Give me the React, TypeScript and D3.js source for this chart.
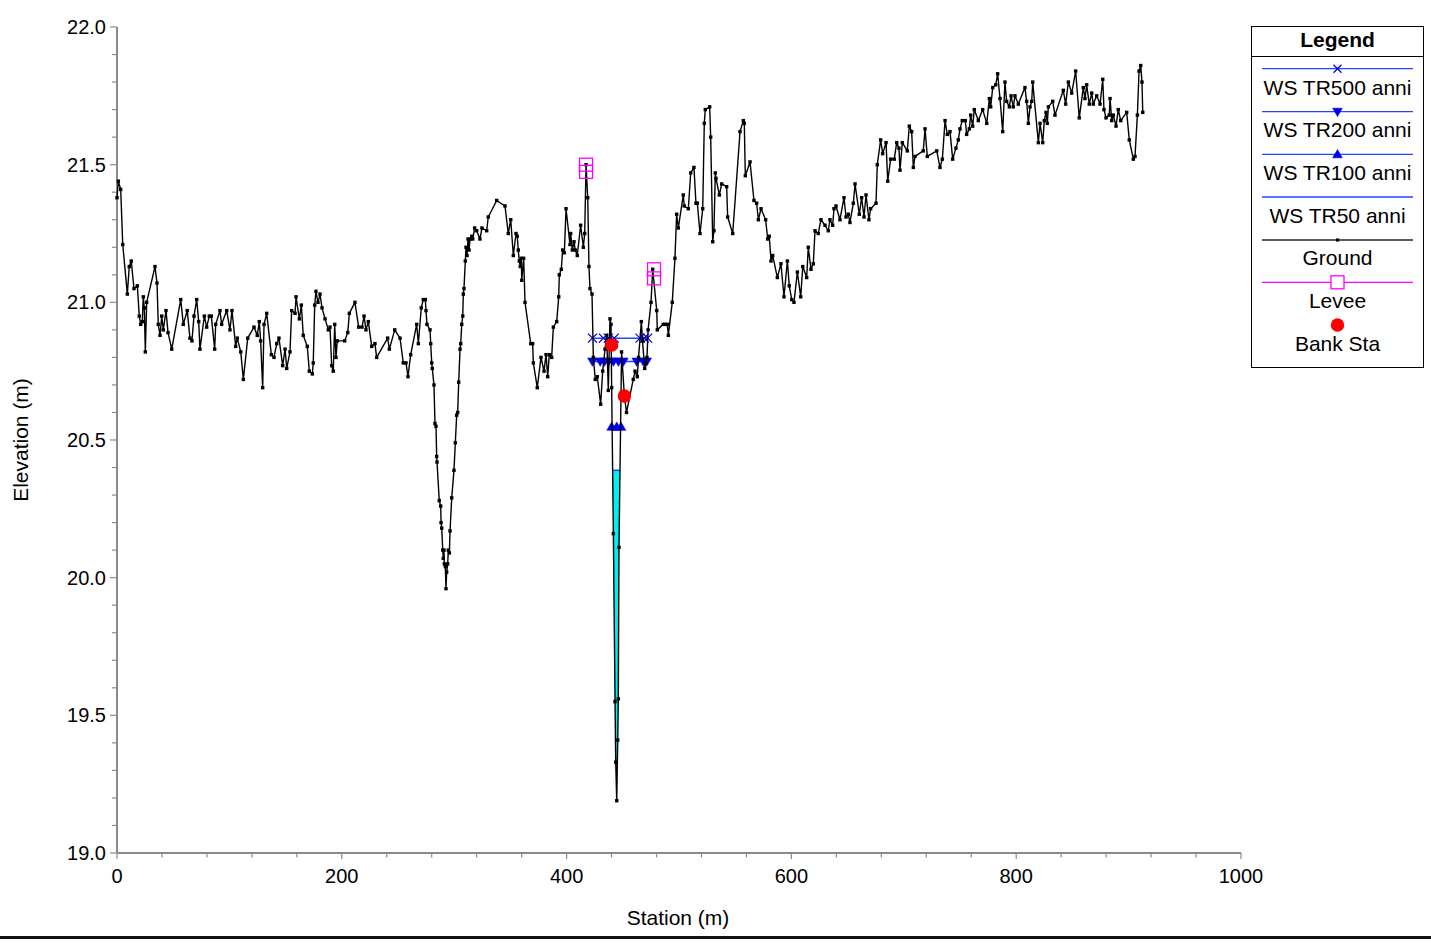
import React from "react";
import * as d3 from "d3";

// ---------------- DATA ----------------
const groundSta = [
  0.0, 1.2, 3.3, 5.1, 9.2, 10.9, 12.7, 15.1, 18.1, 19.8, 21.1, 22.5, 23.4, 24.3, 25.2, 26.4, 33.8, 35.6, 36.7, 38.3,
  39.8, 41.2, 43.6, 45.4, 48.7, 56.7, 59.0, 62.5, 64.9, 66.7, 68.5, 70.9, 72.7, 73.8, 77.7, 79.8, 82.1, 83.9, 86.9, 87.8,
  91.6, 93.1, 97.6, 100.5, 102.3, 105.6, 107.0, 110.1, 112.4, 116.3, 121.9, 124.8, 126.6, 127.8, 129.6, 130.8, 133.2, 137.3, 139.7, 142.1,
  144.1, 147.4, 149.5, 151.0, 153.9, 155.4, 158.4, 159.3, 162.2, 164.0, 165.7, 169.3, 171.1, 173.8, 174.6, 175.9, 177.0, 178.8, 180.6, 182.4,
  185.1, 188.0, 189.5, 191.0, 192.4, 193.7, 194.8, 196.0, 202.6, 205.3, 206.7, 211.7, 215.0, 218.0, 219.8, 221.5, 223.6, 226.6, 229.5, 231.0,
  240.8, 242.3, 247.1, 251.8, 254.7, 257.1, 258.9, 261.3, 266.6, 268.1, 270.7, 272.5, 274.3, 274.9, 275.8, 278.5, 279.1, 280.0, 280.5, 282.0,
  282.9, 283.8, 284.4, 284.7, 286.7, 288.0, 288.3, 288.9, 289.8, 290.3, 290.9, 291.2, 292.1, 292.7, 293.3, 294.2, 294.8, 295.7, 296.3, 297.8,
  299.8, 301.0, 302.2, 303.1, 304.0, 305.2, 305.8, 306.7, 307.6, 308.1, 308.7, 309.9, 310.5, 311.4, 312.3, 313.2, 314.1, 315.6, 316.5, 318.2,
  320.0, 322.9, 324.7, 328.9, 330.3, 337.8, 345.2, 348.1, 350.3, 352.6, 355.0, 356.1, 357.0, 357.9, 358.8, 359.7, 360.1, 361.8, 363.0, 368.1,
  369.8, 370.4, 373.9, 377.2, 379.9, 381.7, 383.2, 384.6, 386.7, 388.2, 391.2, 393.0, 393.5, 395.3, 396.5, 398.0, 399.5, 403.0, 403.6, 405.1,
  406.6, 407.7, 409.5, 412.5, 414.9, 416.1, 417.3, 418.8, 419.9, 420.8, 422.6, 423.8, 425.5, 427.3, 430.3, 432.1, 434.2, 435.7, 437.1, 438.6,
  439.5, 440.1, 441.6, 443.1, 443.7, 444.6, 445.5, 446.0, 446.6, 448.9, 451.4, 453.3, 459.3, 460.9, 462.9, 464.0, 466.5, 467.5, 469.5, 470.5,
  471.5, 472.5, 475.1, 476.6, 480.2, 480.7, 486.0, 487.5, 489.6, 490.5, 494.0, 496.4, 497.9, 499.4, 503.8, 504.7, 508.3, 510.4, 513.3, 515.1,
  516.3, 518.7, 521.1, 522.5, 523.4, 527.3, 528.2, 530.0, 531.1, 532.3, 532.9, 535.9, 538.0, 542.4, 543.3, 547.8, 554.3, 557.2, 558.1, 559.0,
  563.2, 566.7, 569.1, 570.6, 573.0, 577.1, 578.9, 580.3, 581.9, 583.4, 587.5, 590.7, 593.4, 596.4, 598.1, 600.3, 602.3, 605.3, 608.3, 610.1,
  613.6, 615.0, 617.4, 619.5, 621.0, 623.9, 626.3, 629.9, 632.8, 634.3, 636.7, 637.9, 639.7, 643.2, 646.8, 648.6, 650.6, 652.1, 655.1, 656.6,
  660.4, 662.5, 664.6, 666.4, 669.0, 670.5, 675.3, 676.4, 679.4, 681.2, 684.2, 685.7, 688.3, 691.5, 693.7, 695.7, 696.6, 698.7, 703.1, 704.9,
  707.0, 708.5, 710.0, 717.3, 718.9, 720.9, 729.3, 732.2, 734.3, 736.7, 738.7, 741.1, 743.5, 746.4, 748.5, 750.0, 752.0, 754.7, 755.9, 758.3,
  759.5, 761.3, 762.7, 766.3, 770.2, 773.8, 776.1, 777.3, 779.1, 781.8, 783.5, 785.6, 788.0, 790.0, 791.5, 793.9, 795.4, 797.4, 798.9, 801.9,
  807.8, 809.3, 810.8, 812.3, 813.8, 814.7, 819.7, 821.2, 823.6, 825.0, 826.5, 827.7, 828.6, 832.5, 834.5, 841.9, 844.0, 846.4, 849.4, 852.9,
  856.1, 859.7, 861.2, 862.7, 865.0, 867.2, 868.6, 871.6, 874.6, 877.0, 878.1, 879.9, 882.8, 883.5, 885.0, 886.4, 888.8, 890.8, 893.0, 898.3,
  900.6, 904.2, 905.7, 907.8, 909.3, 910.8, 911.9, 912.6,
];
const groundElev = [
  21.38, 21.44, 21.41, 21.21, 21.03, 21.13, 21.15, 21.05, 21.06, 20.95, 20.92, 20.93, 21.02, 20.98, 20.82, 21.0, 21.13, 21.07, 20.92, 20.88,
  20.95, 20.9, 20.97, 20.89, 20.83, 21.01, 20.92, 20.97, 20.87, 20.86, 20.95, 21.01, 20.93, 20.83, 20.95, 20.91, 20.95, 20.95, 20.83, 20.92,
  20.97, 20.92, 20.97, 20.9, 20.97, 20.84, 20.87, 20.82, 20.72, 20.87, 20.91, 20.88, 20.93, 20.86, 20.69, 20.92, 20.96, 20.81, 20.8, 20.85,
  20.87, 20.77, 20.83, 20.76, 20.82, 20.97, 20.96, 21.02, 20.94, 20.99, 20.88, 20.84, 20.75, 20.74, 20.78, 20.99, 21.04, 21.0, 21.03, 20.98,
  20.94, 20.9, 20.91, 20.77, 20.75, 20.92, 20.8, 20.86, 20.86, 20.89, 20.96, 21.0, 20.91, 20.91, 20.95, 20.9, 20.93, 20.84, 20.85, 20.8,
  20.87, 20.83, 20.9, 20.87, 20.78, 20.78, 20.73, 20.81, 20.92, 20.85, 20.98, 21.01, 21.01, 20.97, 20.92, 20.9, 20.85, 20.78, 20.76, 20.7,
  20.56, 20.55, 20.44, 20.42, 20.28, 20.26, 20.2, 20.18, 20.1, 20.07, 20.1, 20.05, 20.04, 19.96, 20.02, 20.05, 20.1, 20.09, 20.17, 20.29,
  20.39, 20.49, 20.59, 20.6, 20.71, 20.83, 20.85, 20.92, 20.95, 21.03, 21.05, 21.15, 21.2, 21.17, 21.23, 21.19, 21.23, 21.24, 21.23, 21.27,
  21.26, 21.23, 21.27, 21.26, 21.31, 21.37, 21.35, 21.25, 21.3, 21.17, 21.25, 21.24, 21.19, 21.15, 21.13, 21.16, 21.08, 21.16, 21.0, 20.85,
  20.85, 20.78, 20.69, 20.8, 20.75, 20.81, 20.73, 20.81, 20.8, 20.91, 20.93, 21.02, 21.1, 21.12, 21.19, 21.18, 21.34, 21.21, 21.25, 21.19,
  21.22, 21.19, 21.17, 21.28, 21.2, 21.25, 21.5, 21.38, 21.13, 21.05, 21.03, 20.8, 20.72, 20.73, 20.63, 20.75, 20.83, 20.88, 20.68, 20.94,
  20.92, 20.69, 20.16, 19.55, 19.33, 19.19, 19.41, 19.56, 20.11, 20.82, 20.66, 20.6, 20.72, 20.75, 20.73, 20.8, 20.93, 20.86, 20.76, 20.78,
  20.8, 20.9, 21.0, 21.12, 20.97, 20.9, 20.92, 20.92, 20.92, 20.88, 21.0, 21.16, 21.32, 21.27, 21.39, 21.35, 21.34, 21.47, 21.49, 21.36,
  21.36, 21.25, 21.34, 21.65, 21.7, 21.71, 21.6, 21.22, 21.26, 21.47, 21.45, 21.39, 21.43, 21.42, 21.31, 21.25, 21.62, 21.66, 21.65, 21.46,
  21.51, 21.37, 21.36, 21.3, 21.34, 21.3, 21.23, 21.24, 21.15, 21.17, 21.09, 21.14, 21.02, 21.15, 21.06, 21.01, 21.0, 21.11, 21.02, 21.13,
  21.09, 21.2, 21.12, 21.14, 21.26, 21.25, 21.3, 21.28, 21.26, 21.3, 21.28, 21.34, 21.35, 21.3, 21.38, 21.31, 21.32, 21.29, 21.36, 21.43,
  21.32, 21.38, 21.31, 21.39, 21.3, 21.34, 21.36, 21.5, 21.59, 21.54, 21.58, 21.44, 21.52, 21.52, 21.58, 21.56, 21.48, 21.58, 21.55, 21.64,
  21.62, 21.49, 21.53, 21.55, 21.63, 21.53, 21.55, 21.49, 21.52, 21.66, 21.61, 21.62, 21.52, 21.56, 21.59, 21.63, 21.66, 21.66, 21.61, 21.63,
  21.68, 21.64, 21.7, 21.66, 21.7, 21.65, 21.74, 21.71, 21.78, 21.79, 21.83, 21.74, 21.62, 21.8, 21.73, 21.71, 21.75, 21.71, 21.75, 21.72,
  21.78, 21.73, 21.65, 21.71, 21.73, 21.8, 21.58, 21.65, 21.58, 21.66, 21.69, 21.65, 21.71, 21.73, 21.68, 21.77, 21.72, 21.8, 21.76, 21.84,
  21.67, 21.78, 21.74, 21.79, 21.72, 21.76, 21.72, 21.75, 21.72, 21.81, 21.7, 21.67, 21.68, 21.74, 21.66, 21.68, 21.64, 21.7, 21.66, 21.69,
  21.59, 21.52, 21.53, 21.68, 21.84, 21.86, 21.8, 21.69,
];

// Water surfaces (elevation, and stations of the markers)
const ws500Elev = 20.87;
const ws500Sta = [423.0, 432.7, 437.1, 442.4, 465.3, 469.1, 472.1];
const ws200Elev = 20.785;
const ws200Sta = [423.0, 429.9, 433.7, 437.3, 441.6, 446.1, 450.5, 462.4, 468.3, 471.3];
const ws100Elev = 20.548;
const ws100Sta = [440.1, 444.6, 448.4];
const ws50Elev = 20.39;
const ws50Range = [440, 450];

const leveeSta = [417.3, 417.3, 477.8, 477.8];
const leveeElev = [21.5, 21.474, 21.12, 21.087];

const bankSta = [440.1, 451.4];
const bankElev = [20.845, 20.66];

const xTicksMajor = [0, 200, 400, 600, 800, 1000];
const yTicksMajor = [19.0, 19.5, 20.0, 20.5, 21.0, 21.5, 22.0];

const legendItems = ["WS TR500 anni", "WS TR200 anni", "WS TR100 anni", "WS TR50 anni", "Ground", "Levee", "Bank Sta"];

// ---------------- CHART ----------------
const W = 1431;
const H = 943;
const FONT = "Arial, 'Liberation Sans', Helvetica, sans-serif";
const BLUE = "#2545ff";
const MARK = "#0000ee";
const AXIS = "#8a8a8a";

const x = d3.scaleLinear().domain([0, 1000]).range([117, 1241]);
const y = d3.scaleLinear().domain([19, 22]).range([853, 27]);

const ground = groundSta.map((s, i) => ({ s, e: groundElev[i] }));

function wetPolygon(ws: number, lo: number, hi: number) {
  const pts: { s: number; e: number }[] = [];
  for (let i = 0; i < ground.length - 1; i++) {
    const a = ground[i];
    const b = ground[i + 1];
    if (a.s < lo || b.s > hi) continue;
    if (a.e < ws) pts.push(a);
    if ((a.e - ws) * (b.e - ws) < 0) {
      pts.push({ s: a.s + ((ws - a.e) / (b.e - a.e)) * (b.s - a.s), e: ws });
    }
  }
  return pts;
}

function XMark({ cx, cy, r = 4.5 }: { cx: number; cy: number; r?: number }) {
  return (
    <path d={`M${cx - r},${cy - r}L${cx + r},${cy + r}M${cx - r},${cy + r}L${cx + r},${cy - r}`} stroke={MARK} strokeWidth={1.3} fill="none" />
  );
}
function TriDown({ cx, cy }: { cx: number; cy: number }) {
  return <path d={`M${cx - 4.8},${cy - 3.5}L${cx + 4.8},${cy - 3.5}L${cx},${cy + 4.8}Z`} fill={MARK} stroke={MARK} strokeWidth={0.6} />;
}
function TriUp({ cx, cy }: { cx: number; cy: number }) {
  return <path d={`M${cx - 4.8},${cy + 3.5}L${cx + 4.8},${cy + 3.5}L${cx},${cy - 4.8}Z`} fill={MARK} stroke={MARK} strokeWidth={0.6} />;
}

export default function App() {
  const groundLine = d3
    .line<{ s: number; e: number }>()
    .x((d) => x(d.s))
    .y((d) => y(d.e))(ground) as string;

  const wet = wetPolygon(ws50Elev, ws50Range[0], ws50Range[1]);
  const wetPath = (d3.line<{ s: number; e: number }>().x((d) => x(d.s)).y((d) => y(d.e))(wet) as string) + "Z";
  const ws50Left = wet[0].s;
  const ws50Right = wet[wet.length - 1].s;

  const xMinor = d3.range(0, 1001, 40);
  const yMinor = d3.range(19, 22.001, 0.1);

  // legend layout
  const lgX = 1251.5;
  const lgY = 26.5;
  const lgW = 172;
  const lgH = 341;
  const lgCx = lgX + lgW / 2;
  const lineYs = [68.7, 111.7, 154.3, 197, 240, 282.3];
  const labelYs = [87.5, 129.5, 172.5, 215.5, 257.5, 300.5, 343.5];

  return (
    <svg width={W} height={H} style={{ position: "absolute", left: 0, top: 0, display: "block", background: "#fff" }} fontFamily={FONT}>
      <rect x={0} y={0} width={W} height={H} fill="#fff" />

      {/* Axes */}
      <line x1={x(0)} x2={x(1000)} y1={y(19)} y2={y(19)} stroke={AXIS} strokeWidth={2} />
      <line x1={x(0)} x2={x(0)} y1={y(19)} y2={y(22)} stroke={AXIS} strokeWidth={2} />
      {xMinor.map((v) => (
        <line key={"xm" + v} x1={x(v)} x2={x(v)} y1={y(19)} y2={y(19) + (v % 200 === 0 ? 6 : 4.5)} stroke={AXIS} strokeWidth={1.2} />
      ))}
      {yMinor.map((v, i) => (
        <line key={"ym" + i} x1={x(0) - (i % 5 === 0 ? 7 : 5)} x2={x(0)} y1={y(v)} y2={y(v)} stroke={AXIS} strokeWidth={1.2} />
      ))}
      {xTicksMajor.map((v) => (
        <text key={"xl" + v} x={x(v)} y={y(19) + 30} fontSize={20} textAnchor="middle" fill="#000">
          {v}
        </text>
      ))}
      {yTicksMajor.map((v) => (
        <text key={"yl" + v} x={x(0) - 11} y={y(v) + 7} fontSize={20} textAnchor="end" fill="#000">
          {d3.format(".1f")(v)}
        </text>
      ))}
      <text x={678} y={925} fontSize={21} textAnchor="middle" fill="#000">
        Station (m)
      </text>
      <text transform={`translate(28,440) rotate(-90)`} fontSize={21} textAnchor="middle" fill="#000">
        Elevation (m)
      </text>

      {/* Water fill TR50 */}
      <path d={wetPath} fill="#00f0f0" stroke="none" />
      <line x1={x(ws50Left)} x2={x(ws50Right)} y1={y(ws50Elev)} y2={y(ws50Elev)} stroke={BLUE} strokeWidth={1.5} />

      {/* Water surfaces */}
      {[
        { e: ws500Elev, st: ws500Sta, k: "500" },
        { e: ws200Elev, st: ws200Sta, k: "200" },
        { e: ws100Elev, st: ws100Sta, k: "100" },
      ].map((w) => (
        <g key={w.k}>
          <line x1={x(d3.min(w.st)!)} x2={x(d3.max(w.st)!)} y1={y(w.e)} y2={y(w.e)} stroke={BLUE} strokeWidth={1.5} />
          {w.st.map((s, i) =>
            w.k === "500" ? (
              <XMark key={i} cx={x(s)} cy={y(w.e)} />
            ) : w.k === "200" ? (
              <TriDown key={i} cx={x(s)} cy={y(w.e)} />
            ) : (
              <TriUp key={i} cx={x(s)} cy={y(w.e)} />
            )
          )}
        </g>
      ))}

      {/* Ground */}
      <path d={groundLine} fill="none" stroke="#000" strokeWidth={1.4} strokeLinejoin="round" />
      {ground.map((d, i) => (
        <rect key={"g" + i} x={x(d.s) - 1.7} y={y(d.e) - 1.7} width={3.4} height={3.4} fill="#000" />
      ))}

      {/* Levees */}
      {leveeSta.map((s, i) => (
        <rect key={"lv" + i} x={x(s) - 6.5} y={y(leveeElev[i]) - 6.5} width={13} height={13} fill="none" stroke="#ff00ff" strokeWidth={1.3} />
      ))}

      {/* Bank stations */}
      {bankSta.map((s, i) => (
        <circle key={"bk" + i} cx={x(s)} cy={y(bankElev[i])} r={6.7} fill="#ff0000" />
      ))}

      {/* Legend */}
      <rect x={lgX} y={lgY} width={lgW} height={lgH} fill="#fff" stroke="#000" strokeWidth={1} />
      <line x1={lgX} x2={lgX + lgW} y1={56.5} y2={56.5} stroke="#000" strokeWidth={1} />
      <text x={lgCx} y={47} fontSize={21} fontWeight="bold" textAnchor="middle" fill="#000">
        Legend
      </text>
      {lineYs.map((ly, i) => (
        <line key={"ll" + i} x1={1262} x2={1413} y1={ly} y2={ly} stroke={i < 4 ? BLUE : i === 4 ? "#222" : "#ff00ff"} strokeWidth={1.3} />
      ))}
      <XMark cx={lgCx} cy={lineYs[0]} r={4} />
      <TriDown cx={lgCx} cy={lineYs[1]} />
      <TriUp cx={lgCx} cy={lineYs[2]} />
      <rect x={lgCx - 1.6} y={lineYs[4] - 1.6} width={3.2} height={3.2} fill="#000" />
      <rect x={lgCx - 6.5} y={lineYs[5] - 6.5} width={13} height={13} fill="#fff" stroke="#ff00ff" strokeWidth={1.3} />
      <circle cx={lgCx} cy={325} r={6.7} fill="#ff0000" />
      {legendItems.map((t, i) => (
        <text key={"lt" + i} x={lgCx} y={labelYs[i] + 7.5} fontSize={21} textAnchor="middle" fill="#000">
          {t}
        </text>
      ))}

      {/* bottom border */}
      <rect x={0} y={936} width={W} height={3} fill="#111" />
    </svg>
  );
}
